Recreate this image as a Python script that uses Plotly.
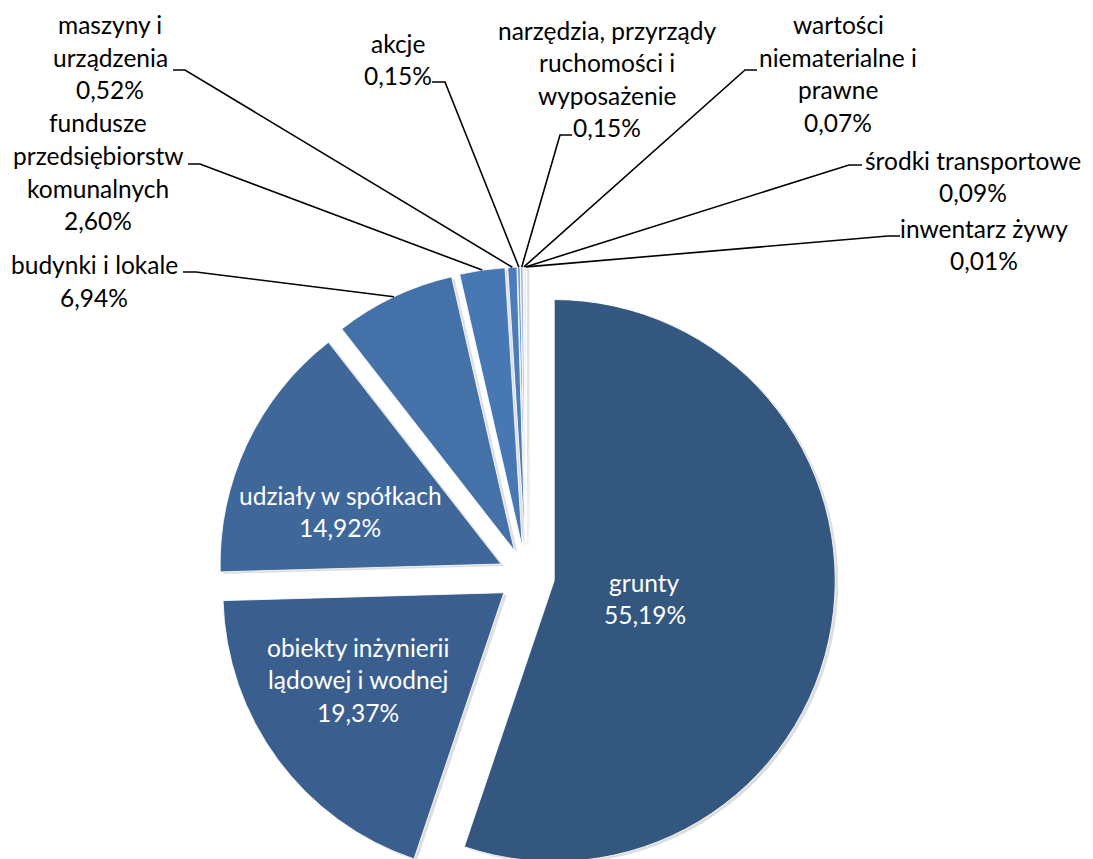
import math
import plotly.graph_objects as go

# ---------------- data ----------------
categories = [
    "grunty",
    "obiekty inżynierii lądowej i wodnej",
    "udziały w spółkach",
    "budynki i lokale",
    "fundusze przedsiębiorstw komunalnych",
    "maszyny i urządzenia",
    "akcje",
    "narzędzia, przyrządy ruchomości i wyposażenie",
    "wartości niematerialne i prawne",
    "środki transportowe",
    "inwentarz żywy",
]
values = [55.19, 19.37, 14.92, 6.94, 2.60, 0.52, 0.15, 0.15, 0.07, 0.09, 0.01]
label_lines = [
    ["grunty"],
    ["obiekty inżynierii", "lądowej i wodnej"],
    ["udziały w spółkach"],
    ["budynki i lokale"],
    ["fundusze", "przedsiębiorstw", "komunalnych"],
    ["maszyny i", "urządzenia"],
    ["akcje"],
    ["narzędzia, przyrządy", "ruchomości i", "wyposażenie"],
    ["wartości", "niematerialne i", "prawne"],
    ["środki transportowe"],
    ["inwentarz żywy"],
]
colors = ["#34577F", "#3A5F8E", "#3F6799", "#4472A8", "#4778B4", "#4A7DBA",
          "#6F98CE", "#9DB9E0", "#B8CDEA", "#C9D9EF", "#DDE7F5"]

# ---------------- layout / geometry ----------------
W, H = 1093, 880            # figure size (page shows the top-left part after the 8px body margin)
PAGE_OFF = 8                # default body margin of the html page
C0X, C0Y = 526.5, 576.0     # centre of the un-exploded pie (screen px)
R = 281.0                   # pie radius (px)
PULL = 0.10                 # explosion, fraction of radius
SHADOW = (3.0, 2.0)         # shadow offset (px)
FONT = "Lato"
FS = 24.5
LINE_GAP = 32.5

# label placement (screen px): centre x, first-line y, inside?, leader (start, knee)
label_pos = [
    dict(x=645, y=582, inside=True),
    dict(x=358, y=647, inside=True),
    dict(x=340, y=495, inside=True),
    dict(x=94, y=265, leader=((183, 272), (196, 272))),
    dict(x=98, y=123, leader=((188, 164), (200, 164))),
    dict(x=110, y=25, leader=((173, 70), (185, 70))),
    dict(x=398, y=43, leader=((432, 82), (445, 82))),
    dict(x=607, y=30, leader=((572, 135), (560, 135))),
    dict(x=838, y=25, leader=((757, 70), (745, 70))),
    dict(x=973, y=160, leader=((862, 165), (849, 165))),
    dict(x=984, y=228, leader=((900, 236), (888, 236))),
]


def pct(v):
    return f"{v:.2f}".replace(".", ",") + "%"


def px(x):
    return (x - PAGE_OFF) / W


def py(y):
    return 1 - (y - PAGE_OFF) / H


n = len(values)
total = sum(values)
geo = []
cum = 0.0
for v in values:
    a0 = cum / total * 2 * math.pi
    cum += v
    a1 = cum / total * 2 * math.pi
    mid = (a0 + a1) / 2
    cx = C0X + PULL * R * math.sin(mid)
    cy = C0Y - PULL * R * math.cos(mid)
    geo.append((cx, cy, mid))


def domain(cx, cy):
    x0, x1 = px(cx - R), px(cx + R)
    y0, y1 = py(cy + R), py(cy - R)
    return dict(x=[max(0, x0), min(1, x1)], y=[max(0, y0), min(1, y1)])


def slice_trace(i, cx, cy, col, line_col, line_w):
    cols = ["rgba(0,0,0,0)"] * n
    cols[i] = col
    lw = [0] * n
    lw[i] = line_w
    return go.Pie(
        values=values, labels=categories, sort=False, direction="clockwise",
        rotation=0, textinfo="none", hoverinfo="skip", showlegend=False,
        marker=dict(colors=cols, line=dict(color=line_col, width=lw)),
        domain=domain(cx, cy),
    )


fig = go.Figure()
# soft shadows first
for i in range(n):
    cx, cy, _ = geo[i]
    fig.add_trace(slice_trace(i, cx + SHADOW[0], cy + SHADOW[1],
                              "rgba(0,0,0,0.13)", "rgba(0,0,0,0)", 0))
# slices
for i in range(n):
    cx, cy, _ = geo[i]
    fig.add_trace(slice_trace(i, cx, cy, colors[i], "rgba(255,255,255,0.85)", 1))

annotations = []
shapes = []
for i in range(n):
    lp = label_pos[i]
    lines = label_lines[i] + [pct(values[i])]
    col = "white" if lp.get("inside") else "black"
    for k, t in enumerate(lines):
        annotations.append(dict(
            x=px(lp["x"]), y=py(lp["y"] + k * LINE_GAP), xref="paper", yref="paper",
            text=t, showarrow=False, xanchor="center", yanchor="middle",
            font=dict(family=FONT, size=FS, color=col),
        ))
    if "leader" in lp:
        (sx, sy), (kx, ky) = lp["leader"]
        cx, cy, mid = geo[i]
        ex = cx + R * math.sin(mid)
        ey = cy - R * math.cos(mid)
        shapes.append(dict(
            type="path", xref="paper", yref="paper",
            path=f"M {px(sx)},{py(sy)} L {px(kx)},{py(ky)} L {px(ex)},{py(ey)}",
            line=dict(color="black", width=1.6),
        ))

fig.update_layout(
    width=W, height=H, margin=dict(l=0, r=0, t=0, b=0),
    paper_bgcolor="white", plot_bgcolor="white", showlegend=False,
    annotations=annotations, shapes=shapes,
)
fig.write_html("out.html")
